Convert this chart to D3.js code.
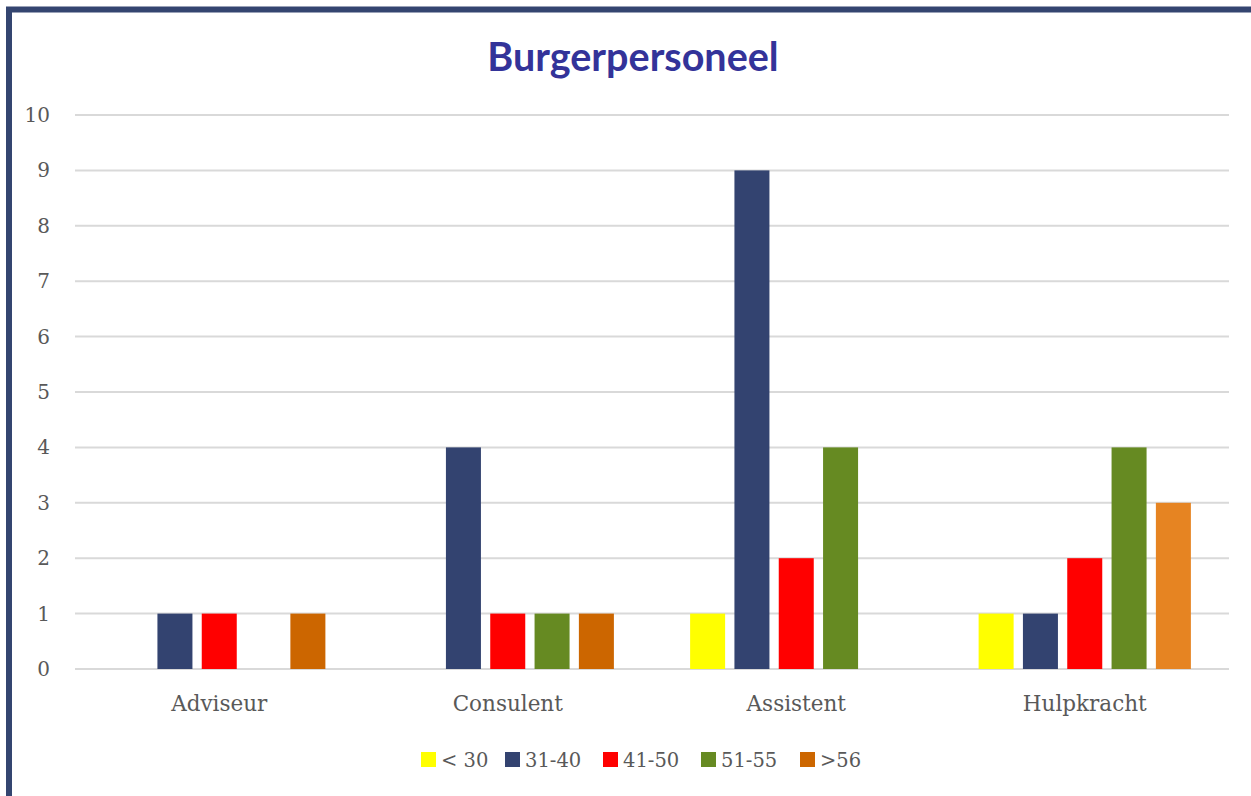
<!DOCTYPE html>
<html>
<head>
<meta charset="utf-8">
<script src="https://cdn.jsdelivr.net/npm/d3@7"></script>
<style>
  body { margin: 0; background: #fff; }
  svg { display: block; }
</style>
</head>
<body>
<script>
const categories = ['Adviseur', 'Consulent', 'Assistent', 'Hulpkracht']
const series = ['< 30', '31-40', '41-50', '51-55', '>56']
const under30 = [0, 0, 1, 1]
const from31to40 = [1, 4, 9, 1]
const from41to50 = [1, 1, 2, 2]
const from51to55 = [0, 1, 4, 4]
const over56 = [1, 1, 0, 3]
const yTicks = [0, 1, 2, 3, 4, 5, 6, 7, 8, 9, 10]

const values = [under30, from31to40, from41to50, from51to55, over56]
const colors = ['#FFFF00', '#334370', '#FF0000', '#668A22', '#CC6600']
// the last Hulpkracht bar is a lighter orange in the original
const pointColor = (s, c) => (s === 4 && c === 3) ? '#E68422' : colors[s]

const width = 1251
const height = 796
const margin = { top: 115, right: 22, bottom: 127, left: 75 }

const svg = d3.select('body').append('svg')
  .attr('width', width)
  .attr('height', height)

// frame
svg.append('path')
  .attr('d', `M9,${height + 10} V9.5 H${width + 10}`)
  .attr('fill', 'none')
  .attr('stroke', '#344570')
  .attr('stroke-width', 6)

svg.append('text')
  .attr('x', 633)
  .attr('y', 71)
  .attr('text-anchor', 'middle')
  .attr('font-family', 'Lato, sans-serif')
  .attr('font-weight', 'bold')
  .attr('font-size', 39.5)
  .attr('fill', '#333399')
  .text('Burgerpersoneel')

const x0 = d3.scaleBand()
  .domain(categories)
  .range([margin.left, width - margin.right])

const x1 = d3.scaleBand()
  .domain(d3.range(series.length))
  .range([0, x0.bandwidth()])
  .paddingInner(0.21)
  .paddingOuter(0.86)

const y = d3.scaleLinear()
  .domain([0, 10])
  .range([height - margin.bottom, margin.top])

// gridlines
svg.append('g')
  .selectAll('line')
  .data(yTicks)
  .join('line')
  .attr('x1', margin.left)
  .attr('x2', width - margin.right)
  .attr('y1', d => y(d))
  .attr('y2', d => y(d))
  .attr('stroke', '#d9d9d9')
  .attr('stroke-width', 2)

const yAxis = svg.append('g')
  .attr('transform', `translate(${margin.left - 25},0)`)
  .call(d3.axisLeft(y).tickValues(yTicks).tickSize(0).tickPadding(0))
yAxis.select('.domain').remove()
yAxis.selectAll('text')
  .attr('font-family', 'DejaVu Serif, serif')
  .attr('font-size', 20)
  .attr('fill', '#595959')

const xAxis = svg.append('g')
  .attr('transform', `translate(0,${y(0)})`)
  .call(d3.axisBottom(x0).tickSize(0).tickPadding(27))
xAxis.select('.domain').remove()
xAxis.selectAll('text')
  .attr('font-family', 'DejaVu Serif, serif')
  .attr('font-size', 21.5)
  .attr('fill', '#595959')

// bars
const groups = svg.append('g')
  .selectAll('g')
  .data(categories)
  .join('g')
  .attr('transform', d => `translate(${x0(d)},0)`)

groups.selectAll('rect')
  .data((d, c) => series.map((s, i) => ({ s: i, c, v: values[i][c] })))
  .join('rect')
  .filter(d => d.v > 0)
  .attr('x', d => x1(d.s))
  .attr('width', x1.bandwidth())
  .attr('y', d => y(d.v))
  .attr('height', d => y(0) - y(d.v))
  .attr('fill', d => pointColor(d.s, d.c))

// legend
const legendX = [421, 505, 603, 701, 800]
const legend = svg.append('g')
  .selectAll('g')
  .data(series)
  .join('g')
  .attr('transform', (d, i) => `translate(${legendX[i]},752)`)

legend.append('rect')
  .attr('width', 15)
  .attr('height', 15)
  .attr('fill', (d, i) => colors[i])

legend.append('text')
  .attr('x', 20)
  .attr('y', 15)
  .attr('font-family', 'DejaVu Serif, serif')
  .attr('font-size', 19.5)
  .attr('fill', '#595959')
  .text(d => d)
</script>
</body>
</html>
